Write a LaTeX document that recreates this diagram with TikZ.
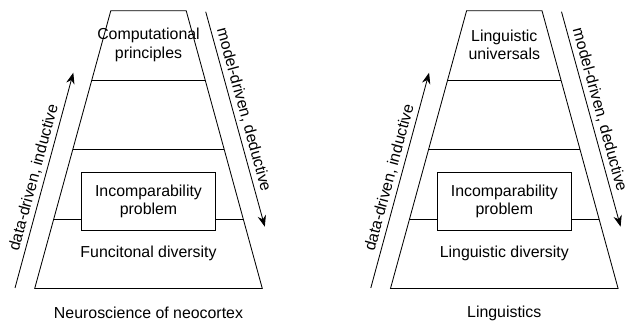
\documentclass[tikz,border=0pt]{standalone}
\usepackage{fontspec}
\setmainfont{Liberation Sans}
\usetikzlibrary{positioning, calc, arrows.meta}
\tikzstyle{layer}=[draw=black, line width=0.6pt]
\tikzstyle{problemBox}=[draw=black, line width=0.6pt, minimum width=3.34cm,
  minimum height=1.46cm, align=center, inner sep=0pt]
\tikzstyle{levelText}=[align=center, inner sep=0pt]
\tikzstyle{arrow}=[-{Stealth[length=8pt, width=6pt]}, line width=0.6pt, draw=black]
\tikzstyle{arrowText}=[above, sloped, inner sep=2.5pt]

\begin{document}
\begin{tikzpicture}[x=0.025cm, y=-0.025cm, font=\fontsize{11.3}{13}\selectfont]
  \useasboundingbox (0,0) rectangle (627,327);

  % neuroscience
  \begin{scope}[shift={(148.5,0)}]
    \coordinate (neuroTL) at (-37.7,10.7);
    \coordinate (neuroTR) at (37.7,10.7);
    \coordinate (neuroBR) at (113.8,288.5);
    \coordinate (neuroBL) at (-113.8,288.5);
    \draw[layer] (neuroTL) -- (neuroTR) -- (neuroBR) -- (neuroBL) -- cycle;
    \draw[layer] ($(neuroTL)!0.25!(neuroBL)$) -- ($(neuroTR)!0.25!(neuroBR)$);
    \draw[layer] ($(neuroTL)!0.5!(neuroBL)$) -- ($(neuroTR)!0.5!(neuroBR)$);
    \coordinate (neuroL) at ($(neuroTL)!0.75!(neuroBL)$);
    \coordinate (neuroR) at ($(neuroTR)!0.75!(neuroBR)$);

    \node[problemBox] (neuroProblem) at (0,201.5) {Incomparability\\problem};
    \draw[layer] (neuroL) -- (neuroL -| neuroProblem.west);
    \draw[layer] (neuroProblem.east |- neuroR) -- (neuroR);

    \node[levelText] (neuroTop) at (0,45) {Computational\\principles};
    \node[levelText] (neuroBottom) at (0,253) {Funcitonal diversity};
    \node[levelText] (neuroField) at (0,313) {Neuroscience of neocortex};

    \coordinate (neuroUpFrom) at (-133.5,288);
    \coordinate (neuroUpTo) at (-75.2,72.7);
    \coordinate (neuroDownFrom) at (57.2,11.7);
    \coordinate (neuroDownTo) at (116.3,226.7);
    \draw[arrow] (neuroUpFrom) -- node[arrowText] {data-driven, inductive} (neuroUpTo);
    \draw[arrow] (neuroDownFrom) -- node[arrowText, pos=0.47] {model-driven, deductive} (neuroDownTo);
  \end{scope}

  % linguistics
  \begin{scope}[shift={(504.3,0)}]
    \coordinate (lingTL) at (-37.7,10.7);
    \coordinate (lingTR) at (37.7,10.7);
    \coordinate (lingBR) at (113.8,288.5);
    \coordinate (lingBL) at (-113.8,288.5);
    \draw[layer] (lingTL) -- (lingTR) -- (lingBR) -- (lingBL) -- cycle;
    \draw[layer] ($(lingTL)!0.25!(lingBL)$) -- ($(lingTR)!0.25!(lingBR)$);
    \draw[layer] ($(lingTL)!0.5!(lingBL)$) -- ($(lingTR)!0.5!(lingBR)$);
    \coordinate (lingL) at ($(lingTL)!0.75!(lingBL)$);
    \coordinate (lingR) at ($(lingTR)!0.75!(lingBR)$);

    \node[problemBox] (lingProblem) at (0,201.5) {Incomparability\\problem};
    \draw[layer] (lingL) -- (lingL -| lingProblem.west);
    \draw[layer] (lingProblem.east |- lingR) -- (lingR);

    \node[levelText] (lingTop) at (0,45) {Linguistic\\universals};
    \node[levelText] (lingBottom) at (0,253) {Linguistic diversity};
    \node[levelText] (lingField) at (0,313) {Linguistics};

    \coordinate (lingUpFrom) at (-133.5,288);
    \coordinate (lingUpTo) at (-75.2,72.7);
    \coordinate (lingDownFrom) at (57.2,11.7);
    \coordinate (lingDownTo) at (116.3,226.7);
    \draw[arrow] (lingUpFrom) -- node[arrowText] {data-driven, inductive} (lingUpTo);
    \draw[arrow] (lingDownFrom) -- node[arrowText, pos=0.47] {model-driven, deductive} (lingDownTo);
  \end{scope}
\end{tikzpicture}
\end{document}
